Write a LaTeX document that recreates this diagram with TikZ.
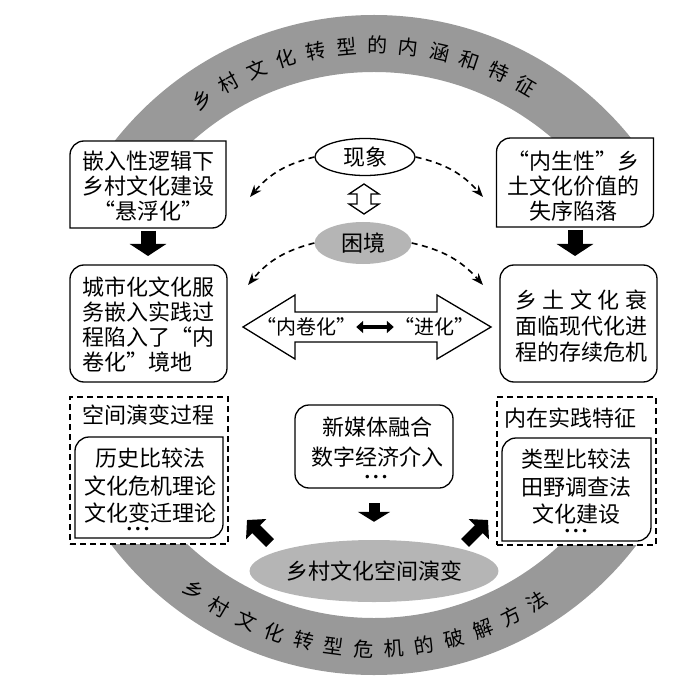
\documentclass[tikz,border=0pt]{standalone}
\usepackage{fontspec}
\setmainfont{Noto Sans CJK SC}
\newfontfamily\fwqfont{Noto Sans CJK SC}[RawFeature=+fwid]
\newfontfamily\dotfont{DejaVu Sans}
\newcommand\LQ{{\fwqfont “}}
\newcommand\RQ{{\fwqfont ”}}
\newcommand\DOTS{{\dotfont\fontsize{12pt}{12pt}\selectfont •\hspace{1.5pt}•\hspace{1.5pt}•}}
\usetikzlibrary{arrows.meta,shapes.geometric,calc}
\definecolor{ringgray}{gray}{0.60}
\definecolor{ellgray}{gray}{0.71}
\tikzset{
  boxframe/.style={rectangle, inner sep=0pt, outer sep=0pt},
  boxline/.style={line width=1.3pt, draw=black, fill=white},
  rbox/.style={boxline, rounded corners=14pt},
  dbox/.style={draw=black, line width=1.5pt, dash pattern=on 6pt off 4pt, fill=white},
  txt/.style={font=\fontsize{22pt}{25pt}\selectfont, inner sep=0pt, align=center},
  ringtxt/.style={font=\fontsize{20pt}{20pt}\selectfont, inner sep=0pt},
  dotstxt/.style={inner sep=0pt},
  dasharrow/.style={line width=1.6pt, dash pattern=on 6pt off 4.5pt, -{Stealth[length=12pt,width=9pt]}},
  blockdown/.style={line width=15pt, -{Triangle[length=12pt,width=36pt]}},
  blocksmall/.style={line width=11pt, -{Triangle[length=10pt,width=32pt]}},
  blockslant/.style={line width=11pt, -{Triangle[length=13pt,width=28pt]}},
  smallda/.style={line width=4pt, {Triangle[length=7pt,width=12pt]}-{Triangle[length=7pt,width=12pt]}},
}
\newcommand\DiagShape[2]{\draw[boxline] (#1.south west) -- ($(#1.north west)+(0,#2)$) .. controls ($(#1.north west)+(0,0.448*#2)$) and ($(#1.north west)+(0.448*#2,0)$) .. ($(#1.north west)+(#2,0)$) -- (#1.north east) -- ($(#1.south east)+(0,-#2)$) .. controls ($(#1.south east)+(0,-0.448*#2)$) and ($(#1.south east)+(-0.448*#2,0)$) .. ($(#1.south east)+(-#2,0)$) -- cycle;}
\begin{document}
\begin{tikzpicture}[x=1pt,y=-1pt]
\path[use as bounding box] (0,0) rectangle (700,700);

% gray ring (two arcs)
\begin{scope}
  \clip (0,0) rectangle (700,158) (0,522) rectangle (700,700);
  \fill[ringgray,even odd rule] (374,345) circle[radius=330pt] (374,345) circle[radius=273pt];
\end{scope}

\foreach \c [count=\i from 0] in {乡,村,文,化,转,型,的,内,涵,和,特,征}{
  \pgfmathsetmacro\ang{125-\i*5.95}
  \node[ringtxt,rotate=\ang-90] (rt\i) at ({374+300*cos(\ang)},{345-300*sin(\ang)}) {\c};
}
\foreach \c [count=\i from 0] in {乡,村,文,化,转,型,危,机,的,破,解,方,法}{
  \pgfmathsetmacro\ang{233.7+\i*5.73}
  \node[ringtxt,rotate=\ang+90] (rb\i) at ({374+304*cos(\ang)},{345-304*sin(\ang)}) {\c};
}

% top boxes
\node[boxframe, minimum width=156pt, minimum height=87pt] (tl) at (148,184.5) {};
\DiagShape{tl}{14}
\node[txt] (tlt) at (148,186) {嵌入性逻辑下\\乡村文化建设\\\LQ{}悬浮化\RQ};

\node[boxframe, minimum width=157pt, minimum height=89pt] (tr) at (575,182.5) {};
\DiagShape{tr}{14}
\node[txt] (trt) at (573,186) {\LQ{}内生性\RQ{}乡\\土文化价值的\\失序陷落};

% middle boxes
\node[boxframe, rbox, minimum width=157pt, minimum height=117pt] (ml) at (148.5,323.5) {};
\node[txt, align=left] (mlt) at (148,325) {城市化文化服\\务嵌入实践过\\程陷入了\LQ{}内\\卷化\RQ{}境地};

\node[boxframe, rbox, minimum width=157pt, minimum height=117pt] (mr) at (578.5,323.5) {};
\node[txt, font=\fontsize{22pt}{26pt}\selectfont] (mrt) at (581,326) {\makebox[6em]{乡\hfill 土\hfill 文\hfill 化\hfill 衰}\\面临现代化进\\程的存续危机};

% center ellipses
\node[ellipse, draw, line width=1.3pt, fill=white, inner sep=0pt, minimum width=100pt, minimum height=37pt, font=\fontsize{22pt}{25pt}\selectfont] (xx) at (365,157) {现象};
\node[ellipse, fill=ellgray, inner sep=0pt, minimum width=97pt, minimum height=42pt, font=\fontsize{22pt}{25pt}\selectfont] (kj) at (363,243) {困境};

\coordinate (aL1) at (250,197);
\coordinate (aR1) at (483,197);
\coordinate (aL2) at (248,285);
\coordinate (aR2) at (483,285);
\draw[dasharrow] (xx.west) to[bend right=18] (aL1);
\draw[dasharrow] (xx.east) to[bend left=18] (aR1);
\draw[dasharrow] (kj.west) to[bend right=18] (aL2);
\draw[dasharrow] (kj.east) to[bend left=18] (aR2);

% hollow vertical double arrow
\coordinate (vd) at ($(xx.south)!0.5!(kj.north)$);
\draw[line width=1.3pt, fill=white, shift={(vd)}] (0,-15) -- (15,-5) -- (7,-5) -- (7,5) -- (15,5) -- (0,15) -- (-15,5) -- (-7,5) -- (-7,-5) -- (-15,-5) -- cycle;

% big hollow double arrow
\coordinate (bd) at (367,327);
\draw[line width=1.3pt, fill=white, shift={(bd)}] (-124,0) -- (-72,-32) -- (-72,-15) -- (70,-15) -- (70,-32) -- (124,0) -- (70,32) -- (70,15) -- (-72,15) -- (-72,32) -- cycle;
\node[txt, font=\fontsize{20pt}{20pt}\selectfont] (nj) at (306,327) {\LQ{}内卷化\RQ};
\node[txt, font=\fontsize{20pt}{20pt}\selectfont] (jh) at (434,327) {\LQ{}进化\RQ};
\draw[smallda] (nj.east) -- (jh.west);

% block arrows down
\draw[blockdown, shorten <=3pt, shorten >=9pt] (tl.south) -- (tl.south |- ml.north);
\draw[blockdown, shorten <=3pt, shorten >=9pt] (tr.south) -- (tr.south |- mr.north);

% dashed boxes
\node[boxframe, dbox, minimum width=158pt, minimum height=147pt] (dl) at (149,470.5) {};
\node[txt] (dlt) at (148,415) {空间演变过程};
\node[boxframe, minimum width=148pt, minimum height=101pt] (il) at (149,487.5) {};
\DiagShape{il}{14}
\node[txt, font=\fontsize{22pt}{27.5pt}\selectfont] (ilt) at (150,486) {历史比较法\\文化危机理论\\文化变迁理论};
\node[dotstxt] (ild) at (138,530) {\DOTS};

\node[boxframe, dbox, minimum width=159pt, minimum height=148pt] (dr) at (576.5,471) {};
\node[txt] (drt) at (570,418) {内在实践特征};
\node[boxframe, minimum width=149pt, minimum height=103pt] (ir) at (576.5,489.5) {};
\DiagShape{ir}{14}
\node[txt, font=\fontsize{22pt}{27.5pt}\selectfont] (irt) at (576,487) {类型比较法\\田野调查法\\文化建设};
\node[dotstxt] (ird) at (576,532) {\DOTS};

% center box
\node[boxframe, rbox, minimum width=158pt, minimum height=83pt] (cb) at (374,446.5) {};
\node[txt, font=\fontsize{22pt}{30pt}\selectfont] (cbt) at (377,442) {新媒体融合\\数字经济介入};
\node[dotstxt] (cbd) at (376,478) {\DOTS};

% bottom ellipse
\node[ellipse, fill=ellgray, inner sep=0pt, minimum width=222pt, minimum height=62pt, font=\fontsize{22pt}{25pt}\selectfont] (sp) at (374,571) {乡村文化空间演变};
\draw[blocksmall, shorten <=15pt, shorten >=18pt] (cb.south) -- (sp.north);

% slanted block arrows
\coordinate (slt) at (270,543);
\coordinate (slh) at (247,520);
\coordinate (srt) at (465,543);
\coordinate (srh) at (488,520);
\draw[blockslant] (slt) -- (slh);
\draw[blockslant] (srt) -- (srh);
\end{tikzpicture}
\end{document}
